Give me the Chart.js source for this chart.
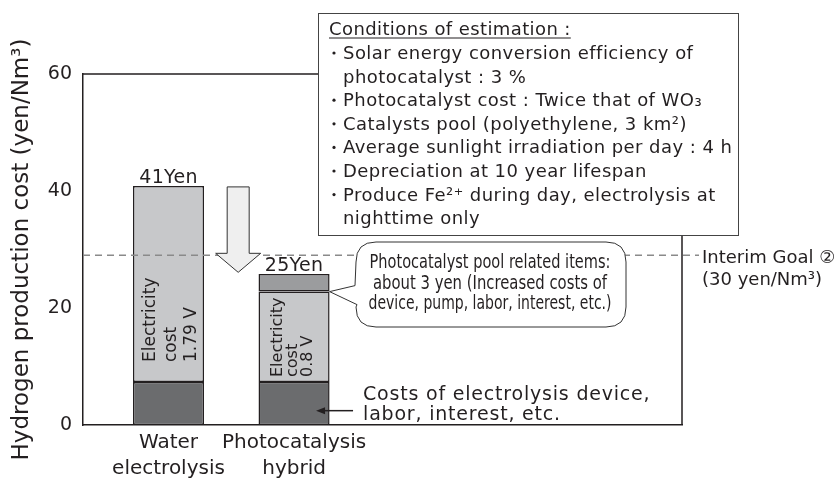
<!DOCTYPE html>
<html>
<head>
<meta charset="utf-8">
<script src="https://cdn.jsdelivr.net/npm/chart.js@4.4.1/dist/chart.umd.min.js"></script>
<style>
    html, body { margin: 0; padding: 0; background: #fff; }
    #wrap { width: 839px; height: 482px; position: relative; }
</style>
</head>
<body>
<div id="wrap"><canvas id="costChart"></canvas></div>
<script>
// hydrogen production cost - water electrolysis vs photocatalysis hybrid

const categories = [['Water', 'electrolysis'], ['Photocatalysis', 'hybrid']];
const deviceCosts = [7.35, 7.35];        // electrolysis device, labor, interest
const electricityCosts = [33.5, 15.45];  // electricity cost
const poolCosts = [0, 3];                // photocatalyst pool related items
const totalLabels = ['41Yen', '25Yen'];
const electricityNotes = [['Electricity', 'cost', '1.79 V'], ['Electricity', 'cost', '0.8 V']];
const yTicks = [0, 20, 40, 60];
const interimGoal = 29;
const goalLabel = ['Interim Goal \u2461', '(30 yen/Nm\u00b3)'];
const calloutLines = ['Photocatalyst pool related items:', 'about 3 yen (Increased costs of', 'device, pump, labor, interest, etc.)'];
const deviceNote = ['Costs of electrolysis device,', 'labor, interest, etc.'];
const conditionsTitle = 'Conditions of estimation :';
const conditionLines = [
    [true, 'Solar energy conversion efficiency of'],
    [false, 'photocatalyst : 3 %'],
    [true, 'Photocatalyst cost : Twice that of WO\u2083'],
    [true, 'Catalysts pool (polyethylene, 3 km\u00b2)'],
    [true, 'Average sunlight irradiation per day : 4 h'],
    [true, 'Depreciation at 10 year lifespan'],
    [true, 'Produce Fe\u00b2\u207a during day, electrolysis at'],
    [false, 'nighttime only']
];

const FONT = "'DejaVu Sans', 'Noto Sans CJK JP', sans-serif";
const INK = '#231f20';
Chart.defaults.font.family = FONT;
Chart.defaults.color = INK;

function toPoints(vals) {
    return vals.map((v, i) => ({ x: i, y: v }));
}

// top and right edge of the frame
const framePlugin = {
    id: 'frame',
    beforeDatasetsDraw(chart) {
        const { ctx, chartArea: a } = chart;
        ctx.save();
        ctx.strokeStyle = INK;
        ctx.lineWidth = 1.5;
        ctx.beginPath();
        ctx.moveTo(a.left, a.top);
        ctx.lineTo(a.right, a.top);
        ctx.lineTo(a.right, a.bottom);
        ctx.stroke();
        ctx.restore();
    }
};

function text(ctx, str, x, y, size, opts = {}) {
    ctx.font = `${size}px ${FONT}`;
    ctx.letterSpacing = (opts.spacing || 0) + 'px';
    ctx.textAlign = opts.align || 'left';
    ctx.textBaseline = 'alphabetic';
    ctx.fillStyle = INK;
    if (opts.maxWidth) ctx.fillText(str, x, y, opts.maxWidth);
    else ctx.fillText(str, x, y);
}

const noteStyles = [{ size: 17, gap: 20.5, lift: 20, shift: 7.5 }, { size: 16, gap: 15, lift: 5, shift: 3 }];

const annotationPlugin = {
    id: 'annotations',
    afterDatasetsDraw(chart) {
        const { ctx, chartArea: a, scales: { x, y } } = chart;
        const elecBars = chart.getDatasetMeta(1).data;
        const topBars = chart.getDatasetMeta(2).data;
        ctx.save();

        // interim goal dashed line
        const gy = y.getPixelForValue(interimGoal);
        ctx.strokeStyle = '#8a8a8a';
        ctx.lineWidth = 1.5;
        ctx.setLineDash([7, 5]);
        ctx.beginPath();
        ctx.moveTo(a.left, gy);
        ctx.lineTo(a.right + 17, gy);
        ctx.stroke();
        ctx.setLineDash([]);

        // big downward arrow
        const ax = x.getPixelForValue(0.555);
        const aTop = y.getPixelForValue(40.7);
        const aTip = y.getPixelForValue(26.1);
        const hb = aTip - 19;
        ctx.beginPath();
        ctx.moveTo(ax - 11, aTop);
        ctx.lineTo(ax + 11, aTop);
        ctx.lineTo(ax + 11, hb);
        ctx.lineTo(ax + 22.5, hb);
        ctx.lineTo(ax, aTip);
        ctx.lineTo(ax - 22.5, hb);
        ctx.lineTo(ax - 11, hb);
        ctx.closePath();
        ctx.fillStyle = '#efefef';
        ctx.fill();
        ctx.strokeStyle = '#333';
        ctx.lineWidth = 1;
        ctx.stroke();

        // callout for the pool cost segment
        const b2 = elecBars[1];
        const tipX = b2.x + b2.width / 2, tipY = b2.y;
        const L = 356, R = 626, T = 242, B = 327, r = 20;
        ctx.beginPath();
        ctx.moveTo(L + r, T);
        ctx.lineTo(R - r, T);
        ctx.quadraticCurveTo(R, T, R, T + r);
        ctx.lineTo(R, B - r);
        ctx.quadraticCurveTo(R, B, R - r, B);
        ctx.lineTo(L + r, B);
        ctx.quadraticCurveTo(L, B, L, B - r);
        ctx.lineTo(L + 1, tipY + 13);
        ctx.lineTo(tipX, tipY);
        ctx.lineTo(L - 1, tipY - 6);
        ctx.lineTo(L, T + r);
        ctx.quadraticCurveTo(L, T, L + r, T);
        ctx.closePath();
        ctx.fillStyle = '#fff';
        ctx.fill();
        ctx.strokeStyle = '#333';
        ctx.lineWidth = 1;
        ctx.stroke();
        const cw = [241, 234, 243];
        calloutLines.forEach((s, i) => text(ctx, s, 490, 268 + i * 20.5, 19, { align: 'center', maxWidth: cw[i] }));

        // conditions box
        ctx.fillStyle = '#fff';
        ctx.fillRect(318, 13, 420, 222);
        ctx.strokeStyle = '#444';
        ctx.lineWidth = 1;
        ctx.strokeRect(318.5, 13.5, 420, 222);
        text(ctx, conditionsTitle, 329, 35, 18, { spacing: 0.4 });
        const tw = ctx.measureText(conditionsTitle).width;
        ctx.fillStyle = INK;
        ctx.fillRect(329, 37.5, tw, 1);
        conditionLines.forEach(([bullet, s], i) => {
            const by = 59 + i * 23.6;
            if (bullet) {
                ctx.beginPath();
                ctx.arc(334, by - 6, 1.6, 0, Math.PI * 2);
                ctx.fillStyle = INK;
                ctx.fill();
            }
            text(ctx, s, 343, by, 18, { spacing: 0.45 });
        });

        // totals above bars
        topBars.forEach((bar, i) => {
            text(ctx, totalLabels[i], bar.x, bar.y - 3, 19, { align: 'center', spacing: 0.3 });
        });

        // rotated notes inside electricity segments
        elecBars.forEach((bar, i) => {
            const st = noteStyles[i];
            ctx.save();
            ctx.translate(bar.x, bar.base - st.lift);
            ctx.rotate(-Math.PI / 2);
            electricityNotes[i].forEach((s, k) => {
                text(ctx, s, 0, (k - 1) * st.gap + st.shift, st.size);
            });
            ctx.restore();
        });

        // device cost arrow and note
        const dy = y.getPixelForValue(deviceCosts[1] / 3);
        const dx = b2.x + 22;
        ctx.strokeStyle = INK;
        ctx.lineWidth = 1.5;
        ctx.beginPath();
        ctx.moveTo(dx + 37, dy);
        ctx.lineTo(dx + 6, dy);
        ctx.stroke();
        ctx.beginPath();
        ctx.moveTo(dx, dy);
        ctx.lineTo(dx + 9, dy - 3.5);
        ctx.lineTo(dx + 9, dy + 3.5);
        ctx.closePath();
        ctx.fillStyle = INK;
        ctx.fill();
        deviceNote.forEach((s, i) => text(ctx, s, dx + 47, dy - 11 + i * 20, 19, { spacing: 0.8 }));

        // interim goal label
        goalLabel.forEach((s, i) => text(ctx, s, a.right + 20, gy + 8 + i * 22, 18));

        ctx.restore();
    }
};

new Chart(document.getElementById('costChart'), {
    type: 'bar',
    data: {
        datasets: [
            {
                label: 'Costs of electrolysis device, labor, interest, etc.',
                data: toPoints(deviceCosts),
                backgroundColor: '#6b6c6e'
            },
            {
                label: 'Electricity cost',
                data: toPoints(electricityCosts),
                backgroundColor: '#c7c8ca'
            },
            {
                label: 'Photocatalyst pool related items',
                data: toPoints(poolCosts),
                backgroundColor: '#9b9c9e'
            }
        ].map(ds => Object.assign(ds, {
            borderColor: INK,
            borderWidth: 1.5,
            borderSkipped: false,
            categoryPercentage: 1,
            barPercentage: 0.566
        }))
    },
    options: {
        responsive: true,
        maintainAspectRatio: false,
        animation: false,
        layout: { padding: { top: 74, right: 157, bottom: 0, left: 0 } },
        plugins: { legend: { display: false }, tooltip: { enabled: false } },
        scales: {
            x: {
                type: 'linear',
                stacked: true,
                offset: false,
                min: -0.681,
                max: 4.09,
                grid: { display: false, drawTicks: false },
                border: { color: INK, width: 1.5 },
                afterBuildTicks: scale => { scale.ticks = categories.map((c, i) => ({ value: i })); },
                afterFit: scale => { scale.height = 57; },
                ticks: {
                    padding: 5,
                    font: { size: 20, lineHeight: 1.3 },
                    color: INK,
                    callback: value => categories[value]
                }
            },
            y: {
                stacked: true,
                min: 0,
                max: 60,
                grid: { display: false, drawTicks: false },
                border: { color: INK, width: 1.5 },
                afterBuildTicks: scale => { scale.ticks = yTicks.map(v => ({ value: v })); },
                afterFit: scale => { scale.width = 83; },
                ticks: { padding: 11, font: { size: 19 }, color: INK },
                title: {
                    display: true,
                    text: 'Hydrogen production cost (yen/Nm\u00b3)',
                    font: { size: 23, lineHeight: 1.2 },
                    color: INK,
                    padding: { top: 8, bottom: 0 }
                }
            }
        }
    },
    plugins: [framePlugin, annotationPlugin]
});
</script>
</body>
</html>
